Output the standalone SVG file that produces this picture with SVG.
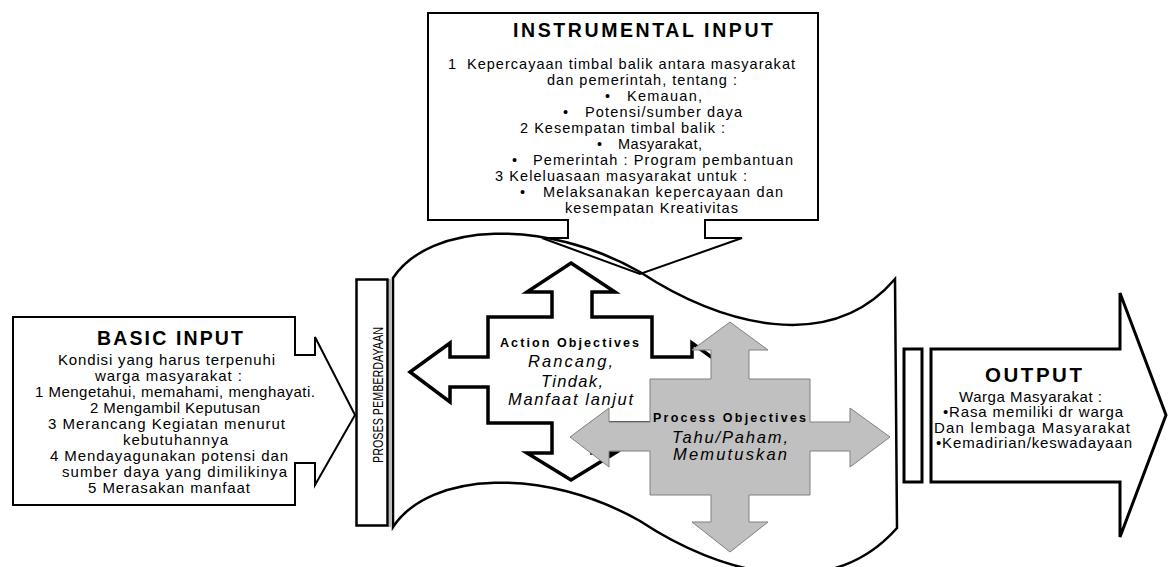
<svg xmlns="http://www.w3.org/2000/svg" width="1168" height="567" viewBox="0 0 1168 567">
<style>
.t{font-family:"Liberation Sans",Arial,sans-serif;font-size:14.5px;fill:#000}
.s{font-size:15px}
.b{font-family:"Liberation Sans",Arial,sans-serif;font-weight:bold;fill:#000}
.i{font-family:"Liberation Sans",Arial,sans-serif;font-style:italic;font-size:16.5px;fill:#000}
.ln{fill:none;stroke:#000;stroke-width:2}
</style>
<rect width="1168" height="567" fill="#fff"/>
<g id="connectors">
<path d="M428,13 H818 V220 H705 V238 H742 L640,274 L542,238 H568 V220 H428 Z" fill="#fff" stroke="none"/>
</g>
<g id="banner">
<path d="M393,278 C430,222 545,218 640,272 C720,325 830,355 895,279 L897,528 C830,604 720,574 640,521 C545,467 430,471 393,527 Z" fill="#fff" stroke="#000" stroke-width="2.5"/>
<line x1="390" y1="279" x2="390" y2="527" stroke="#777" stroke-width="1"/>
</g>
<g id="proses">
<rect x="356.5" y="279.5" width="31" height="246" fill="#fff" stroke="#000" stroke-width="2.5"/>
<text class="t" transform="translate(383,463) rotate(-90)" font-size="13.5" textLength="136" lengthAdjust="spacingAndGlyphs">PROSES PEMBERDAYAAN</text>
</g>
<g id="instrumental-input">
<path d="M428,13 H818 V220 H705 V238 H742 L640,274 L542,238 H568 V220 H428 Z" class="ln"/>
<text class="b" x="513" y="37" font-size="19.5" textLength="260">INSTRUMENTAL INPUT</text>
<text class="t" x="448" y="69">1</text>
<text class="t" x="467" y="69" textLength="328">Kepercayaan timbal balik antara masyarakat</text>
<text class="t" x="547" y="85" textLength="190">dan pemerintah, tentang :</text>
<text class="t" x="605" y="101">•</text>
<text class="t" x="627" y="101" textLength="75">Kemauan,</text>
<text class="t" x="563" y="117">•</text>
<text class="t" x="585" y="117" textLength="157">Potensi/sumber daya</text>
<text class="t" x="520" y="133" textLength="205">2 Kesempatan timbal balik :</text>
<text class="t" x="597" y="149">•</text>
<text class="t" x="618" y="149" textLength="84">Masyarakat,</text>
<text class="t" x="512" y="165">•</text>
<text class="t" x="533" y="165" textLength="260">Pemerintah : Program pembantuan</text>
<text class="t" x="495" y="181" textLength="252">3 Keleluasaan masyarakat untuk :</text>
<text class="t" x="520" y="197">•</text>
<text class="t" x="543" y="197" textLength="240">Melaksanakan kepercayaan dan</text>
<text class="t" x="565" y="213" textLength="173">kesempatan Kreativitas</text>
</g>
<g id="basic-input">
<path d="M13,317 H295 V355 H315 V337 L355,415 L315,485 V463 H295 V505 H13 Z" fill="#fff" stroke="#000" stroke-width="2"/>
<text class="b" x="97" y="345" font-size="19.5" textLength="146">BASIC INPUT</text>
<text class="t s" x="58" y="365" textLength="217">Kondisi yang harus terpenuhi</text>
<text class="t s" x="95" y="381" textLength="147">warga masyarakat :</text>
<text class="t s" x="35" y="397" textLength="280">1 Mengetahui, memahami, menghayati.</text>
<text class="t s" x="90" y="413" textLength="170">2 Mengambil Keputusan</text>
<text class="t s" x="48" y="429" textLength="237">3 Merancang Kegiatan menurut</text>
<text class="t s" x="123" y="445" textLength="105">kebutuhannya</text>
<text class="t s" x="50" y="461" textLength="238">4 Mendayagunakan potensi dan</text>
<text class="t s" x="62" y="477" textLength="225">sumber daya yang dimilikinya</text>
<text class="t s" x="88" y="493" textLength="162">5 Merasakan manfaat</text>
</g>
<g id="action-objectives">
<path d="M571,263 L615,292 H592 V317 H652 V357 H692 V343 L732,372 L692,402 V387 H652 V423 H592 V453 H615 L571,480 L527,453 H552 V423 H488 V387 H450 V402 L410,372 L450,343 V357 H488 V317 H552 V292 H527 Z" fill="#fff" stroke="#000" stroke-width="3.5" stroke-linejoin="miter"/>
<text class="b" x="500" y="347" font-size="12.5" textLength="139">Action Objectives</text>
<text class="i" x="528" y="367" textLength="85">Rancang,</text>
<text class="i" x="541" y="387" textLength="62">Tindak,</text>
<text class="i" x="508" y="405" textLength="125">Manfaat lanjut</text>
</g>
<g id="process-objectives">
<path d="M730,322 L768,350 H749 V379 H810 V422 H850 V408 L890,437 L850,467 V451 H810 V495 H749 V522 H768 L730,552 L692,522 H711 V495 H650 V451 H609 V467 L570,437 L609,408 V422 H650 V379 H711 V350 H692 Z" fill="#c0c0c0" stroke="#808080" stroke-width="1"/>
<text class="b" x="653" y="422" font-size="12.5" textLength="153">Process Objectives</text>
<text class="i" x="672" y="443" textLength="116">Tahu/Paham,</text>
<text class="i" x="673" y="460" textLength="114">Memutuskan</text>
</g>
<g id="output">
<rect x="904" y="349" width="18" height="133" fill="#fff" stroke="#000" stroke-width="3"/>
<path d="M931,349 H1120 V293 L1166,415 L1120,537 V482 H931 Z" fill="#fff" stroke="#000" stroke-width="3"/>
<text class="b" x="985" y="382" font-size="20.5" textLength="97">OUTPUT</text>
<text class="t s" x="959" y="402" textLength="143">Warga Masyarakat :</text>
<text class="t s" x="943" y="417" textLength="180">•Rasa memiliki dr warga</text>
<text class="t s" x="934" y="433" textLength="196">Dan lembaga Masyarakat</text>
<text class="t s" x="936" y="448" textLength="196">•Kemadirian/keswadayaan</text>
</g>
</svg>
